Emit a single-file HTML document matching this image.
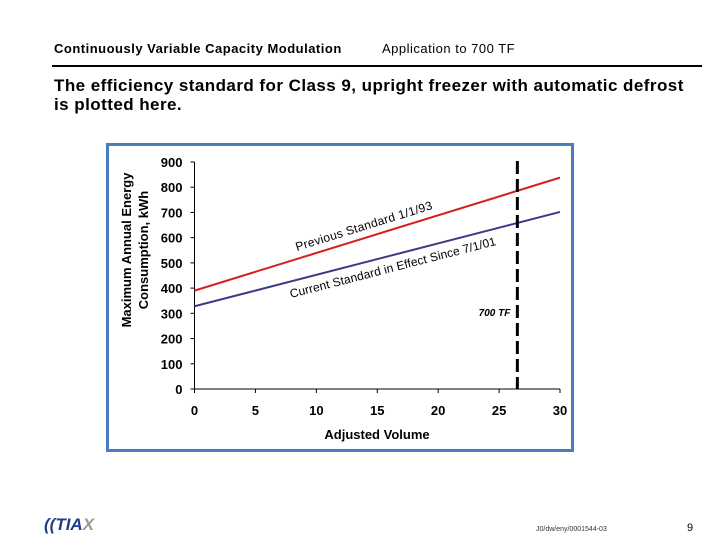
<!DOCTYPE html>
<html><head><meta charset="utf-8"><style>
body{margin:0;width:720px;height:540px;background:#fff;position:relative;overflow:hidden;font-family:"Liberation Sans",Arial,sans-serif}
.a{position:absolute;white-space:nowrap}
</style></head><body>
<div class="a" style="left:54px;top:41px;font-size:13px;font-weight:bold;letter-spacing:0.5px">Continuously Variable Capacity Modulation</div>
<div class="a" style="left:382px;top:41px;font-size:13px;letter-spacing:0.5px">Application to 700 TF</div>
<div class="a" style="left:52px;top:65px;width:650px;height:2px;background:#000"></div>
<div class="a" style="left:54px;top:76px;font-size:17px;font-weight:bold;line-height:19px;letter-spacing:0.45px">The efficiency standard for Class 9, upright freezer with automatic defrost<br>is plotted here.</div>
<svg class="a" style="left:0;top:0" width="720" height="540">
<rect x="107.5" y="144.5" width="465" height="306" fill="none" stroke="#4a7cc0" stroke-width="3"/>
<g id="g"></g>
</svg>
<div class="a" style="left:44px;top:515px;font-size:17px;font-weight:bold;font-style:italic;color:#1f3d8a">((TIA<span style="color:#999">X</span></div>
<div class="a" style="left:536px;top:526px;font-size:7px;color:#333">J0/dw/eny/0001544-03</div>
<div class="a" style="left:687px;top:522px;font-size:11px">9</div>
<script>
const xTicks=[0,5,10,15,20,25,30];
const yTicks=[0,100,200,300,400,500,600,700,800,900];
const prevStd=[[0,390],[30,838]];
const currStd=[[0,328],[30,702]];
const markerX=26.5;
const X=v=>194.5+v*(560-194.5)/30, Y=v=>389-v*(389-162)/900;
const NS="http://www.w3.org/2000/svg",g=document.getElementById('g');
function mk(t,a,txt){const e=document.createElementNS(NS,t);for(const k in a)e.setAttribute(k,a[k]);if(txt!=null)e.textContent=txt;g.appendChild(e);return e;}
let e;
e=mk('line',{x1:X(0),y1:Y(0),x2:X(0),y2:Y(900),stroke:'#000'});


e=mk('line',{x1:X(0),y1:Y(0),x2:X(30),y2:Y(0),stroke:'#000'});


yTicks.forEach(v=>{mk('line',{x1:X(0)-4,x2:X(0),y1:Y(v),y2:Y(v),stroke:'#000'});
e=mk('text',{x:X(0)-12,y:Y(v)+5,'text-anchor':'end','font-size':13,'font-weight':'bold'},v);

});
xTicks.forEach(v=>{mk('line',{x1:X(v),x2:X(v),y1:Y(0),y2:Y(0)+4,stroke:'#000'});
e=mk('text',{x:X(v),y:Y(0)+26,'text-anchor':'middle','font-size':13,'font-weight':'bold'},v);

});
e=mk('text',{x:377,y:439,'text-anchor':'middle','font-size':13,'font-weight':'bold'},'Adjusted Volume');


e=mk('text',{x:0,y:0,'text-anchor':'middle','font-size':13,'font-weight':'bold',transform:'translate(131,250) rotate(-90)'});


['Maximum Annual Energy','Consumption, kWh'].forEach((t,i)=>{const s=document.createElementNS(NS,'tspan');s.setAttribute('x',0);s.setAttribute('dy',i?17:0);s.textContent=t;e.appendChild(s);});
e=mk('line',{x1:X(prevStd[0][0]),y1:Y(prevStd[0][1]),x2:X(prevStd[1][0]),y2:Y(prevStd[1][1]),stroke:'#d42020','stroke-width':2});


e=mk('line',{x1:X(currStd[0][0]),y1:Y(currStd[0][1]),x2:X(currStd[1][0]),y2:Y(currStd[1][1]),stroke:'#3a3a8a','stroke-width':2});


e=mk('line',{x1:X(markerX),y1:161,x2:X(markerX),y2:Y(0),stroke:'#000','stroke-width':3,'stroke-dasharray':'13,5'});


e=mk('text',{x:X(markerX)-7,y:316,'text-anchor':'end','font-size':10,'font-weight':'bold','font-style':'italic'},'700 TF');


const ang=Math.atan2(Y(prevStd[1][1])-Y(prevStd[0][1]),X(30)-X(0))*180/Math.PI;
const ang2=Math.atan2(Y(currStd[1][1])-Y(currStd[0][1]),X(30)-X(0))*180/Math.PI;
e=mk('text',{x:0,y:0,'font-size':12,'letter-spacing':0.3,transform:`translate(297,251) rotate(${ang})`},'Previous Standard 1/1/93');


e=mk('text',{x:0,y:0,'font-size':12,'letter-spacing':0.1,transform:`translate(291,298) rotate(${ang2})`},'Current Standard in Effect Since 7/1/01');


</script>
</body></html>
